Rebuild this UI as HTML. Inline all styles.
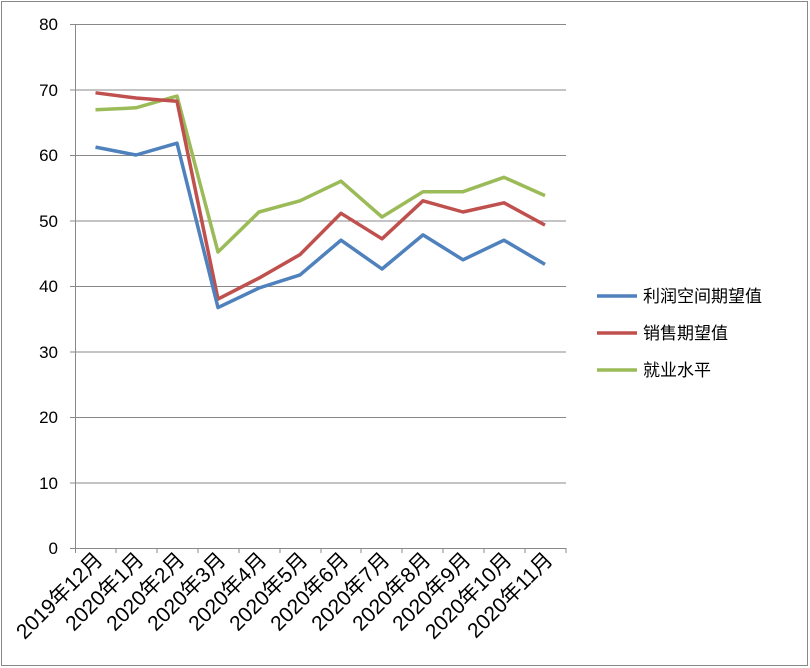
<!DOCTYPE html>
<html><head><meta charset="utf-8"><style>body{margin:0;background:#fff}svg{display:block}</style></head><body>
<svg width="810" height="668" xmlns="http://www.w3.org/2000/svg" font-family="Liberation Sans, Noto Sans CJK SC, sans-serif">
<rect x="1.5" y="1.5" width="806" height="664" fill="#fff" stroke="#888" stroke-width="1"/>
<g stroke="#888" stroke-width="1">
<line x1="75" y1="24.5" x2="566" y2="24.5"/><line x1="75" y1="90" x2="566" y2="90"/><line x1="75" y1="155.5" x2="566" y2="155.5"/><line x1="75" y1="221" x2="566" y2="221"/><line x1="75" y1="286.5" x2="566" y2="286.5"/><line x1="75" y1="352" x2="566" y2="352"/><line x1="75" y1="417.5" x2="566" y2="417.5"/><line x1="75" y1="483" x2="566" y2="483"/>
<line x1="75.5" y1="24" x2="75.5" y2="553"/><line x1="70" y1="548.5" x2="566" y2="548.5"/>
<line x1="70" y1="24.5" x2="75" y2="24.5"/><line x1="70" y1="90" x2="75" y2="90"/><line x1="70" y1="155.5" x2="75" y2="155.5"/><line x1="70" y1="221" x2="75" y2="221"/><line x1="70" y1="286.5" x2="75" y2="286.5"/><line x1="70" y1="352" x2="75" y2="352"/><line x1="70" y1="417.5" x2="75" y2="417.5"/><line x1="70" y1="483" x2="75" y2="483"/>
<line x1="116" y1="548" x2="116" y2="553"/><line x1="157" y1="548" x2="157" y2="553"/><line x1="198" y1="548" x2="198" y2="553"/><line x1="239" y1="548" x2="239" y2="553"/><line x1="280" y1="548" x2="280" y2="553"/><line x1="321" y1="548" x2="321" y2="553"/><line x1="361" y1="548" x2="361" y2="553"/><line x1="402" y1="548" x2="402" y2="553"/><line x1="443" y1="548" x2="443" y2="553"/><line x1="484" y1="548" x2="484" y2="553"/><line x1="525" y1="548" x2="525" y2="553"/><line x1="566" y1="548" x2="566" y2="553"/>
</g>
<g font-size="17" text-anchor="end" fill="#000">
<text x="58" y="30">80</text><text x="58" y="96">70</text><text x="58" y="161">60</text><text x="58" y="227">50</text><text x="58" y="292">40</text><text x="58" y="358">30</text><text x="58" y="423">20</text><text x="58" y="489">10</text><text x="58" y="554">0</text>
</g>
<g font-size="21" text-anchor="end" fill="#000">
<text transform="translate(104,561) rotate(-45)">2019年12月</text>
<text transform="translate(145,561) rotate(-45)">2020年1月</text>
<text transform="translate(186,561) rotate(-45)">2020年2月</text>
<text transform="translate(227,561) rotate(-45)">2020年3月</text>
<text transform="translate(268,561) rotate(-45)">2020年4月</text>
<text transform="translate(309,561) rotate(-45)">2020年5月</text>
<text transform="translate(350,561) rotate(-45)">2020年6月</text>
<text transform="translate(391,561) rotate(-45)">2020年7月</text>
<text transform="translate(432,561) rotate(-45)">2020年8月</text>
<text transform="translate(472,561) rotate(-45)">2020年9月</text>
<text transform="translate(513,561) rotate(-45)">2020年10月</text>
<text transform="translate(554,561) rotate(-45)">2020年11月</text>
</g>
<g fill="none" stroke-width="3.5" stroke-linejoin="round">
<polyline stroke="#9bbb59" points="95.5,109.8 136,107.8 177,96 218,252 259,212 300,200.8 341,181.2 382,217 423,191.7 463,191.7 504,177.3 545,195.6"/>
<polyline stroke="#c0504d" points="95.5,92.8 136,98 177,101.3 218,299.1 259,278.1 300,254.6 341,213.3 382,238.8 423,200.8 463,212 504,202.8 545,225.1"/>
<polyline stroke="#4f81bd" points="95.5,147.1 136,155 177,143.2 218,307.6 259,288 300,274.9 341,240.2 382,269 423,234.9 463,259.8 504,240.2 545,264.4"/>
</g>
<g font-size="17" fill="#000">
<line x1="597" y1="296" x2="637" y2="296" stroke="#4f81bd" stroke-width="3.5"/><text x="643" y="302">利润空间期望值</text>
<line x1="597" y1="333" x2="637" y2="333" stroke="#c0504d" stroke-width="3.5"/><text x="643" y="339">销售期望值</text>
<line x1="597" y1="370" x2="637" y2="370" stroke="#9bbb59" stroke-width="3.5"/><text x="643" y="376">就业水平</text>
</g>
</svg>
</body></html>
